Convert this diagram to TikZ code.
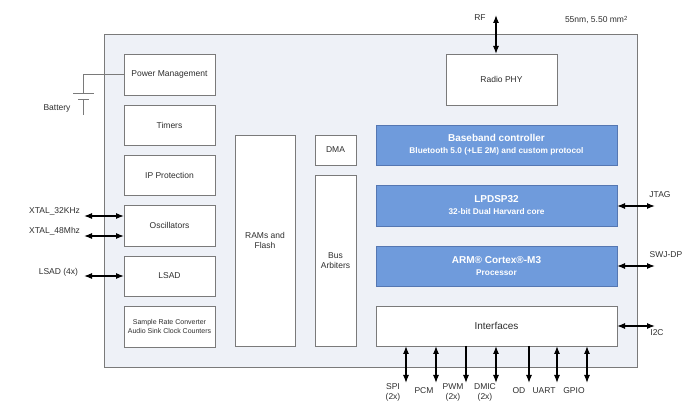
\documentclass[tikz,border=0pt]{standalone}
\usepackage{fontspec}
\setmainfont{Liberation Sans}
\usetikzlibrary{arrows.meta}
\definecolor{txt}{HTML}{2E2E2E}
\definecolor{bordergray}{HTML}{7A7A7A}
\definecolor{chipfill}{HTML}{EEF1F7}
\definecolor{bluefill}{HTML}{6F9BDC}
\definecolor{blueborder}{HTML}{5577B2}
\begin{document}
\begin{tikzpicture}[x=1pt,y=-1pt,
  every node/.style={inner sep=0pt, outer sep=0pt, text=txt, font=\fontsize{8.5}{10}\selectfont},
  chipbox/.style={draw=bordergray, fill=chipfill, line width=0.9pt, anchor=north west},
  blk/.style={draw=bordergray, fill=white, line width=0.9pt, anchor=north west, align=center},
  blueblk/.style={draw=blueborder, fill=bluefill, line width=0.9pt, anchor=north west, align=center, text=white},
  lbl/.style={align=center},
  arr/.style={line width=1.2pt, {Latex[length=8pt,width=6pt]}-{Latex[length=8pt,width=6pt]}},
  arrdown/.style={line width=1.2pt, -{Latex[length=8pt,width=6pt]}},
  wire/.style={draw=bordergray, line width=0.9pt}
]
\useasboundingbox (0,0) rectangle (697,411);

% chip outline
\node[chipbox, minimum width=533pt, minimum height=333pt] (chip) at (104,34) {};

% left column
\node[blk, minimum width=91pt, minimum height=41pt] (pm) at (124,54) {Power Management};
\node[blk, minimum width=91pt, minimum height=40pt] (tim) at (124,105) {Timers};
\node[blk, minimum width=91pt, minimum height=40pt] (ipp) at (124,155) {IP Protection};
\node[blk, minimum width=91pt, minimum height=41pt] (osc) at (124,205) {Oscillators};
\node[blk, minimum width=91pt, minimum height=40pt] (lsad) at (124,256) {LSAD};
\node[blk, minimum width=91pt, minimum height=41pt, font=\fontsize{7}{9}\selectfont] (src) at (124,306) {Sample Rate Converter\\Audio Sink Clock Counters};

% middle
\node[blk, minimum width=60pt, minimum height=211pt] (ram) at (235,135) {RAMs and\\Flash};
\node[blk, minimum width=41pt, minimum height=30pt] (dma) at (315,135) {DMA};
\node[blk, minimum width=41pt, minimum height=171pt] (bus) at (315,175) {Bus\\Arbiters};

% right
\node[blk, minimum width=111pt, minimum height=51pt] (radio) at (446,54) {Radio PHY};
\node[blueblk, minimum width=241pt, minimum height=40pt] (bb) at (376,125)
  {{\fontsize{10}{12}\selectfont\bfseries Baseband controller}\\[2pt]{\fontsize{8.3}{9}\selectfont\bfseries Bluetooth 5.0 (+LE 2M) and custom protocol}};
\node[blueblk, minimum width=241pt, minimum height=41pt] (dsp) at (376,185)
  {{\fontsize{10}{12}\selectfont\bfseries LPDSP32}\\[2pt]{\fontsize{8.3}{9}\selectfont\bfseries 32-bit Dual Harvard core}};
\node[blueblk, minimum width=241pt, minimum height=40pt] (arm) at (376,246)
  {{\fontsize{10}{12}\selectfont\bfseries ARM® Cortex®-M3}\\[2pt]{\fontsize{8.3}{9}\selectfont\bfseries Processor}};
\node[blk, minimum width=241pt, minimum height=40pt, font=\fontsize{10}{12}\selectfont] (intf) at (376,306) {Interfaces};

% top labels
\node[lbl] (rflbl) at (480,18) {RF};
\node[lbl, anchor=west] (tech) at (565,20) {55nm, 5.50 mm\textsuperscript{2}};
\coordinate (rfend) at (496,15);
\draw[arr] (rfend) -- (rfend |- radio.north);

% battery
\coordinate (battop) at (83,93);
\coordinate (batbot) at (83,99);
\coordinate (batend) at (83,115);
\draw[wire] (pm.west) -| (battop);
\draw[wire] (73,93) -- (94,93);
\draw[wire] (78,99) -- (89,99);
\draw[wire] (batbot) -- (batend);
\node[lbl] (batlbl) at (57,108) {Battery};

% left signals
\node[lbl, anchor=east] (x32lbl) at (80,211) {XTAL\_32KHz};
\node[lbl, anchor=east] (x48lbl) at (80,231) {XTAL\_48Mhz};
\node[lbl, anchor=east] (lsadlbl) at (78,272) {LSAD (4x)};
\coordinate (x32) at (84,216);
\coordinate (x48) at (84,236);
\coordinate (lsadin) at (84,276);
\draw[arr] (x32) -- (x32 -| osc.west);
\draw[arr] (x48) -- (x48 -| osc.west);
\draw[arr] (lsadin) -- (lsadin -| lsad.west);

% right signals
\coordinate (jtag) at (655,206);
\coordinate (swj) at (655,266);
\coordinate (iic) at (655,326);
\draw[arr] (jtag -| dsp.east) -- (jtag);
\draw[arr] (swj -| arm.east) -- (swj);
\draw[arr] (iic -| intf.east) -- (iic);
\node[lbl] (jtaglbl) at (660,195) {JTAG};
\node[lbl] (swjlbl) at (666,255) {SWJ-DP};
\node[lbl] (iiclbl) at (657,333) {I2C};

% bottom signals
\coordinate (spi) at (406,383);
\coordinate (pcm) at (436,383);
\coordinate (pwm) at (466,383);
\coordinate (dmic) at (496,383);
\coordinate (od) at (529,383);
\coordinate (uart) at (557,383);
\coordinate (gpio) at (587,383);
\draw[arr] (spi |- intf.south) -- (spi);
\draw[arr] (pcm |- intf.south) -- (pcm);
\draw[arrdown] (pwm |- intf.south) -- (pwm);
\draw[arr] (dmic |- intf.south) -- (dmic);
\draw[arrdown] (od |- intf.south) -- (od);
\draw[arr] (uart |- intf.south) -- (uart);
\draw[arr] (gpio |- intf.south) -- (gpio);
\node[lbl] (spilbl) at (393,392) {SPI\\(2x)};
\node[lbl] (pcmlbl) at (424,391) {PCM};
\node[lbl] (pwmlbl) at (453,392) {PWM\\(2x)};
\node[lbl] (dmiclbl) at (485,392) {DMIC\\(2x)};
\node[lbl] (odlbl) at (519,391) {OD};
\node[lbl] (uartlbl) at (544,391) {UART};
\node[lbl] (gpiolbl) at (574,391) {GPIO};
\end{tikzpicture}
\end{document}
